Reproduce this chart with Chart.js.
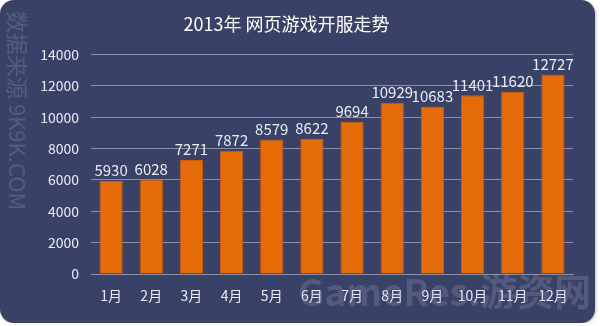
<!DOCTYPE html>
<html>
<head>
<meta charset="utf-8">
<script src="https://cdn.jsdelivr.net/npm/chart.js@4"></script>
<style>
  html, body { margin: 0; padding: 0; background: #ffffff; }
  #wrap {
    position: relative; width: 595px; height: 323px;
    background: #3a4166; border-radius: 14px; overflow: hidden;
    box-shadow: 1px 1px 3px rgba(0, 0, 0, 0.25);
  }
  #chart { position: absolute; left: 0; top: 0; }
  #source {
    position: absolute; left: 7px; top: 11px;
    transform-origin: 0 0; transform: translate(23px, 0) rotate(90deg);
    font-family: "Noto Sans CJK SC", sans-serif; font-size: 22px; line-height: 23px;
    color: rgba(120, 128, 160, 0.42); white-space: nowrap;
  }
  #mark {
    position: absolute; left: 298px; top: 263px;
    font-family: "Noto Sans CJK SC", sans-serif; font-weight: bold; font-size: 37px;
    color: rgba(160, 168, 200, 0.25); white-space: nowrap;
  }
</style>
</head>
<body>
<div id="wrap">
  <canvas id="chart" width="600" height="326"></canvas>
  <div id="source">数据来源 9K9K.COM</div>
  <div id="mark">GameRes.游资网</div>
</div>
<script>
// Data
const months = ["1月", "2月", "3月", "4月", "5月", "6月", "7月", "8月", "9月", "10月", "11月", "12月"];
const serverCounts = [5930, 6028, 7271, 7872, 8579, 8622, 9694, 10929, 10683, 11401, 11620, 12727];
const yTicks = [0, 2000, 4000, 6000, 8000, 10000, 12000, 14000];

const fontName = "'Noto Sans CJK SC', 'Noto Sans', sans-serif";
const textColor = "#e8ebf5";

// draws the number above each bar
const barLabels = {
  id: "barLabels",
  afterDatasetsDraw(chart) {
    const ctx = chart.ctx;
    const meta = chart.getDatasetMeta(0);
    ctx.save();
    ctx.font = "15px " + fontName;
    ctx.fillStyle = textColor;
    ctx.textAlign = "center";
    ctx.textBaseline = "bottom";
    meta.data.forEach(function(bar, i) {
      ctx.fillText(String(serverCounts[i]), bar.x, bar.y - 3);
    });
    ctx.restore();
  }
};

const chart = new Chart(document.getElementById("chart"), {
  type: "bar",
  data: {
    labels: months,
    datasets: [{
      data: serverCounts,
      backgroundColor: "#e46c0a",
      borderColor: "#c95d08",
      borderWidth: 1,
      categoryPercentage: 1,
      barPercentage: 0.58
    }]
  },
  options: {
    responsive: false,
    animation: false,
    layout: { padding: { left: 0, right: 27, top: 0, bottom: 0 } },
    plugins: {
      legend: { display: false },
      tooltip: { enabled: false },
      title: {
        display: true,
        text: "2013年 网页游戏开服走势",
        color: "#ffffff",
        font: { family: fontName, size: 18, weight: "normal" },
        padding: { top: 13, bottom: 20 }
      }
    },
    scales: {
      x: {
        grid: { display: false, drawTicks: false },
        border: { display: true, color: "#8b90aa", width: 1 },
        ticks: { color: textColor, font: { family: fontName, size: 14 }, padding: 13, maxRotation: 0, autoSkip: false },
        afterFit(scale) { scale.height = 52; }
      },
      y: {
        min: 0, max: 14000,
        afterBuildTicks(scale) { scale.ticks = yTicks.map(v => ({ value: v })); },
        grid: { color: "#8b90aa", lineWidth: 1, drawTicks: false },
        border: { display: false },
        ticks: {
          color: textColor, font: { family: fontName, size: 14 }, padding: 12,
          callback: function(value) { return String(value); }
        },
        afterFit(scale) { scale.width = 91; }
      }
    }
  },
  plugins: [barLabels]
});
</script>
</body>
</html>
